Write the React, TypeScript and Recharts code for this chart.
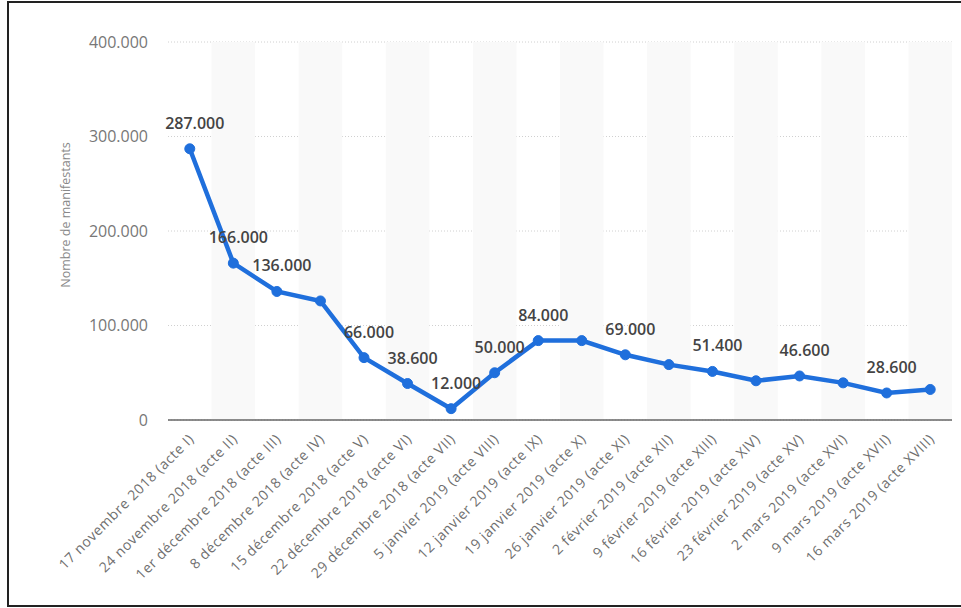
import React from 'react';
import {
  LineChart,
  Line,
  XAxis,
  YAxis,
  CartesianGrid,
  ReferenceArea,
  LabelList,
} from 'recharts';

const categories = [
  '17 novembre 2018 (acte I)',
  '24 novembre 2018 (acte II)',
  '1er décembre 2018 (acte III)',
  '8 décembre 2018 (acte IV)',
  '15 décembre 2018 (acte V)',
  '22 décembre 2018 (acte VI)',
  '29 décembre 2018 (acte VII)',
  '5 janvier 2019 (acte VIII)',
  '12 janvier 2019 (acte IX)',
  '19 janvier 2019 (acte X)',
  '26 janvier 2019 (acte XI)',
  '2 février 2019 (acte XII)',
  '9 février 2019 (acte XIII)',
  '16 février 2019 (acte XIV)',
  '23 février 2019 (acte XV)',
  '2 mars 2019 (acte XVI)',
  '9 mars 2019 (acte XVII)',
  '16 mars 2019 (acte XVIII)',
];

const manifestants = [
  287000, 166000, 136000, 126000, 66000, 38600, 12000, 50000, 84000,
  84000, 69000, 58600, 51400, 41500, 46600, 39300, 28600, 32300,
];

// which points carry a value label in the original
const showLabel = [
  true, true, true, false, true, true, true, true, true,
  false, true, false, true, false, true, false, true, false,
];

const yTicks = [0, 100000, 200000, 300000, 400000];

const data = categories.map((name, i) => ({
  name,
  value: manifestants[i],
  show: showLabel[i],
}));

const FONT = '"Open Sans", "DejaVu Sans", sans-serif';
const BLUE = '#1f6fdc';

const fmt = (v: number) =>
  String(v).replace(/\B(?=(\d{3})+(?!\d))/g, '.');

const XTick = ({ x, y, payload }: any) => (
  <g transform={`translate(${x + 5},${y + 12})`}>
    <text
      textAnchor="end"
      transform="rotate(-45)"
      fill="#6f6f6f"
      fontSize={14}
      letterSpacing={0.6}
      fontFamily={FONT}
    >
      {payload.value}
    </text>
  </g>
);

const ValueLabel = ({ x, y, value, index }: any) => {
  if (!showLabel[index]) return null;
  return (
    <text
      x={x + 5}
      y={y - 20}
      textAnchor="middle"
      fill="#444"
      fontSize={16}
      fontWeight={600}
      fontFamily={FONT}
    >
      {fmt(value)}
    </text>
  );
};

export default function App() {
  return (
    <div
      style={{
        position: 'fixed',
        left: 0,
        top: 0,
        width: 961,
        height: 608,
        background: '#fff',
        overflow: 'hidden',
      }}
    >
      <div
        style={{
          position: 'absolute',
          left: 7,
          top: 1,
          width: 970,
          height: 602,
          borderTop: '2px solid #222',
          borderLeft: '2px solid #222',
          borderBottom: '2px solid #222',
        }}
      />
      <div style={{ position: 'absolute', left: 0, top: 0 }}>
        <LineChart
          width={961}
          height={608}
          data={data}
          margin={{ top: 42, right: 9, left: 48, bottom: 0 }}
        >
          {categories.map((c, i) =>
            i % 2 === 1 ? (
              <ReferenceArea
                key={c}
                x1={c}
                x2={c}
                y1={0}
                y2={400000}
                fill="#f9f9f9"
                fillOpacity={1}
                stroke="none"
                ifOverflow="extendDomain"
              />
            ) : null
          )}
          <CartesianGrid
            vertical={false}
            stroke="#d0d0d0"
            strokeDasharray="1 2"
          />
          <XAxis
            dataKey="name"
            scale="band"
            interval={0}
            height={188}
            tick={<XTick />}
            tickLine={false}
            axisLine={{ stroke: '#666', strokeWidth: 1.5 }}
          />
          <YAxis
            width={120}
            domain={[0, 400000]}
            ticks={yTicks}
            tickFormatter={fmt}
            axisLine={false}
            tickLine={false}
            tickMargin={14}
            tick={{ fill: '#777', fontSize: 16, fontFamily: FONT }}
            label={({ viewBox }: any) => (
              <text
                x={viewBox.x + 22}
                y={viewBox.y + viewBox.height / 2 - 16}
                transform={`rotate(-90, ${viewBox.x + 22}, ${viewBox.y + viewBox.height / 2 - 16})`}
                textAnchor="middle"
                fill="#888"
                fontSize={12.5}
                fontFamily={FONT}
              >
                Nombre de manifestants
              </text>
            )}
          />
          <Line
            type="linear"
            dataKey="value"
            stroke={BLUE}
            strokeWidth={4.5}
            dot={{ r: 5, fill: BLUE, stroke: BLUE, strokeWidth: 1 }}
            activeDot={false}
            isAnimationActive={false}
          >
            <LabelList dataKey="value" content={<ValueLabel />} />
          </Line>
        </LineChart>
      </div>
    </div>
  );
}
